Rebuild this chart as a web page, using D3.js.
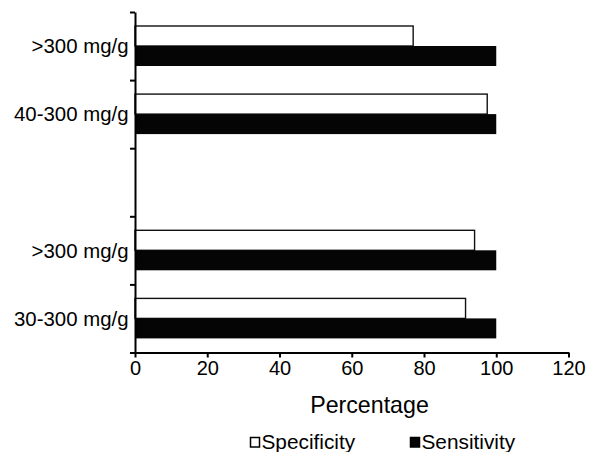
<!DOCTYPE html>
<html>
<head>
<meta charset="utf-8">
<script src="https://cdn.jsdelivr.net/npm/d3@7"></script>
<style>
  html, body { margin: 0; padding: 0; background: #fff; }
  svg { display: block; font-family: "Liberation Sans", Arial, sans-serif; }
</style>
</head>
<body>
<svg id="chart" width="592" height="452"></svg>
<script>
// ---- data ----
const categoryIds = ["g1", "g2", "gap", "g3", "g4"];
const categoryLabels = [">300 mg/g", "40-300 mg/g", "", ">300 mg/g", "30-300 mg/g"];
const specificity = [77, 97.5, null, 94, 91.5];
const sensitivity = [100, 100, null, 100, 100];
const seriesNames = ["Specificity", "Sensitivity"];
const xTicks = [0, 20, 40, 60, 80, 100, 120];
const xTitle = "Percentage";

// ---- layout ----
const svg = d3.select("#chart");
const plotLeft = 135, plotRight = 568.5, plotTop = 12, plotBottom = 352.5;

const x = d3.scaleLinear().domain([0, 120]).range([plotLeft, plotRight]);
const y = d3.scaleBand().domain(categoryIds).range([plotTop, plotBottom]).padding(0);
const yBound = d3.scaleLinear().domain([0, categoryIds.length]).range([plotTop, plotBottom]);
const inner = d3.scaleBand().domain(seriesNames).range([14, 54]).padding(0);

const rows = categoryIds.map((id, i) => ({
  id, label: categoryLabels[i], spec: specificity[i], sens: sensitivity[i]
}));

// bars
const g = svg.append("g");
rows.filter(d => d.spec != null).forEach(d => {
  g.append("rect")
    .attr("x", x(0))
    .attr("y", y(d.id) + inner("Specificity"))
    .attr("width", x(d.spec) - x(0))
    .attr("height", inner.bandwidth())
    .attr("fill", "#fff")
    .attr("stroke", "#111")
    .attr("stroke-width", 1.4);
  g.append("rect")
    .attr("x", x(0))
    .attr("y", y(d.id) + inner("Sensitivity"))
    .attr("width", x(d.sens) - x(0))
    .attr("height", inner.bandwidth())
    .attr("fill", "#050505");
});

// y axis
const yAxis = svg.append("g")
  .attr("transform", `translate(${plotLeft},0)`)
  .call(d3.axisLeft(yBound).tickValues(d3.range(0, categoryIds.length + 1))
    .tickSize(5).tickSizeOuter(0).tickFormat(""));
yAxis.selectAll("path, line").attr("stroke", "#000").attr("stroke-width", 2);

// y labels
svg.append("g").selectAll("text")
  .data(rows.filter(d => d.label))
  .join("text")
  .attr("x", 128.5)
  .attr("y", d => y(d.id) + y.bandwidth() / 2)
  .attr("dy", "0.36em")
  .attr("text-anchor", "end")
  .attr("font-size", 20.4)
  .attr("fill", "#000")
  .text(d => d.label);

// x axis
const xAxis = svg.append("g")
  .attr("transform", `translate(0,${plotBottom})`)
  .call(d3.axisBottom(x).tickValues(xTicks).tickSize(5).tickSizeOuter(0).tickPadding(3.5));
xAxis.selectAll("path, line").attr("stroke", "#000").attr("stroke-width", 2);
xAxis.selectAll("text").attr("font-size", 20).attr("fill", "#000")
  .attr("font-family", "Liberation Sans, Arial, sans-serif");

// x title
svg.append("text")
  .attr("x", 369.5).attr("y", 413)
  .attr("text-anchor", "middle")
  .attr("font-size", 23.2)
  .attr("fill", "#000")
  .text(xTitle);

// legend
const legendX = [250, 410];
const lg = svg.append("g");
seriesNames.forEach((name, i) => {
  lg.append("rect")
    .attr("x", legendX[i] + 0.5).attr("y", 437.5)
    .attr("width", 9).attr("height", 9.5)
    .attr("fill", i === 0 ? "#fff" : "#050505")
    .attr("stroke", "#000").attr("stroke-width", 1.5);
  lg.append("text")
    .attr("x", legendX[i] + 11.5).attr("y", 448.5)
    .attr("font-size", 20.8)
    .attr("fill", "#000")
    .text(name);
});
</script>
</body>
</html>
